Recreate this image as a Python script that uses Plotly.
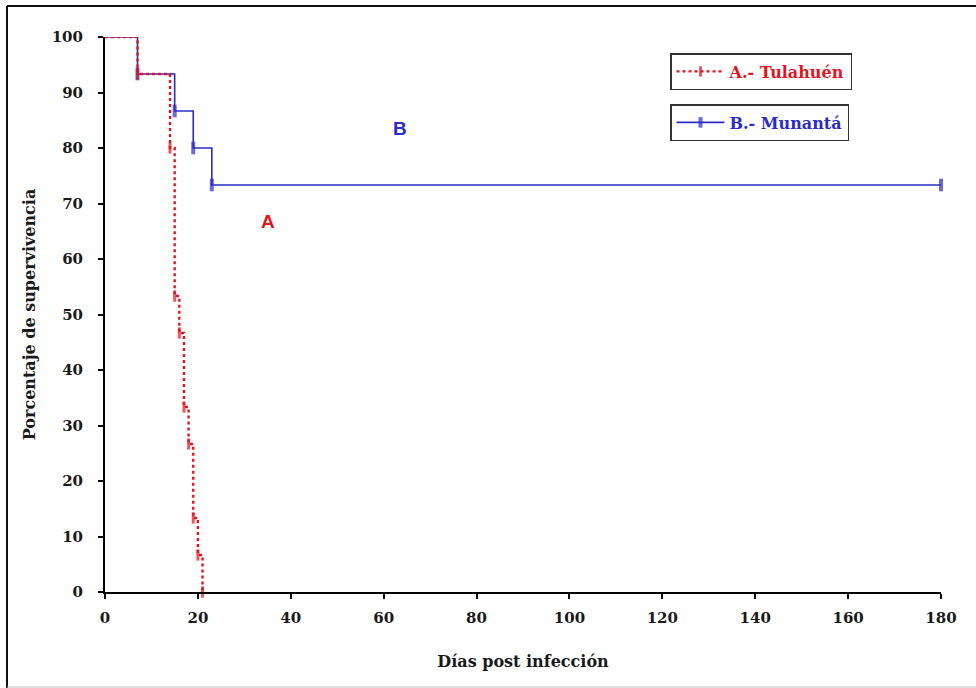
import plotly.graph_objects as go

# Kaplan-Meier survival (% of animals alive) per strain
days_tulahuen = [0, 7, 14, 15, 16, 17, 18, 19, 20, 21]
surv_tulahuen = [100, 93.33, 80, 53.33, 46.67, 33.33, 26.67, 13.33, 6.67, 0]

days_munanta = [0, 7, 15, 19, 23, 180]
surv_munanta = [100, 93.33, 86.67, 80, 73.33, 73.33]

x_ticks = [0, 20, 40, 60, 80, 100, 120, 140, 160, 180]
y_ticks = [0, 10, 20, 30, 40, 50, 60, 70, 80, 90, 100]

RED = "#e3141e"
BLUE = "#2b2bc8"
SERIF = "DejaVu Serif"

W, H = 976, 688
ML, MR, MT, MB = 105, 35, 37, 96
PW, PH = W - ML - MR, H - MT - MB


def px_to_paper_x(px):
    return (px - ML) / PW


def px_to_paper_y(py):
    return (H - MB - py) / PH


fig = go.Figure()

fig.add_trace(go.Scatter(
    x=days_munanta, y=surv_munanta,
    mode="lines+markers", line_shape="hv",
    line=dict(color=BLUE, width=1.6),
    marker=dict(symbol="line-ns", size=[0] + [9] * (len(days_munanta) - 1),
                line=dict(color=BLUE, width=4)),
    name="B.- Munantá", legend="legend2", cliponaxis=False,
))

fig.add_trace(go.Scatter(
    x=days_tulahuen, y=surv_tulahuen,
    mode="lines+markers", line_shape="hv",
    line=dict(color=RED, width=2.4, dash="dot"),
    marker=dict(symbol="line-ns", size=[0] + [8] * (len(days_tulahuen) - 1),
                line=dict(color=RED, width=3)),
    name="A.- Tulahuén", legend="legend", cliponaxis=False,
))

tick_font = dict(family=SERIF, size=15, color="#1a1a1a", weight="bold")
title_font = dict(family=SERIF, size=16, color="#1a1a1a", weight="bold")
axis_common = dict(
    showline=True, linecolor="black", linewidth=2,
    ticks="outside", ticklen=5, tickwidth=1.5, tickcolor="black",
    showgrid=False, zeroline=False, tickfont=tick_font,
)

fig.update_xaxes(range=[0, 180], tickvals=x_ticks, ticklabelstandoff=6, **axis_common,
                 title=dict(text="Días post infección", standoff=30, font=title_font))
fig.update_yaxes(range=[0, 100], tickvals=y_ticks, ticklabelstandoff=12, **axis_common,
                 title=dict(text="Porcentaje de supervivencia", standoff=12, font=title_font))

legend_common = dict(
    xanchor="left", yanchor="top",
    bgcolor="white", bordercolor="#333", borderwidth=1.5,
    itemwidth=48, itemsizing="trace",
)
fig.update_layout(
    width=W, height=H,
    margin=dict(l=ML, r=MR, t=MT, b=MB),
    paper_bgcolor="white", plot_bgcolor="white",
    showlegend=True,
    legend=dict(x=px_to_paper_x(670), y=px_to_paper_y(53),
                font=dict(family=SERIF, size=16, color=RED, weight="bold"),
                **legend_common),
    legend2=dict(x=px_to_paper_x(670), y=px_to_paper_y(104),
                 font=dict(family=SERIF, size=16, color=BLUE, weight="bold"),
                 **legend_common),
    annotations=[
        dict(x=35, y=66.7, xref="x", yref="y", text="A", showarrow=False,
             font=dict(family="Liberation Sans", size=19, color=RED, weight="bold")),
        dict(x=63.5, y=83.6, xref="x", yref="y", text="B", showarrow=False,
             font=dict(family="Liberation Sans", size=19, color=BLUE, weight="bold")),
    ],
    shapes=[
        # outer frame: left and top edges dark, bottom edge faint
        dict(type="line", xref="paper", yref="paper",
             x0=px_to_paper_x(7), x1=px_to_paper_x(7),
             y0=px_to_paper_y(688), y1=px_to_paper_y(6),
             line=dict(color="#111", width=2)),
        dict(type="line", xref="paper", yref="paper",
             x0=px_to_paper_x(7), x1=px_to_paper_x(990),
             y0=px_to_paper_y(6), y1=px_to_paper_y(6),
             line=dict(color="#111", width=2)),
        dict(type="line", xref="paper", yref="paper",
             x0=px_to_paper_x(7), x1=px_to_paper_x(990),
             y0=px_to_paper_y(687), y1=px_to_paper_y(687),
             line=dict(color="#bbb", width=1)),
    ],
)

fig.write_html("out.html")
